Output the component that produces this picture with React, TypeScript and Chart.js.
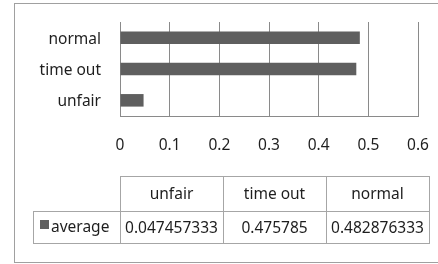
import React, { useEffect, useRef } from "react";
import { Chart, registerables } from "chart.js";

Chart.register(...registerables);

const categories = ["unfair", "time out", "normal"];
const seriesName = "average";
const averageValues = [0.047457333, 0.475785, 0.482876333];
const xTickValues = [0, 0.1, 0.2, 0.3, 0.4, 0.5, 0.6];

const FONT_FAMILY = "'Noto Sans', 'Open Sans', sans-serif";
const FONT_SIZE = 15.5;
const TEXT_COLOR = "#1e1e1e";
const BAR_COLOR = "#5f5f5f";
const GRID_COLOR = "#8a8a8a";
const TABLE_LINE = "#a6a6a6";

const tablePlugin = {
  id: "dataTable",
  beforeDraw(chart: any) {
    const ctx = chart.ctx;
    ctx.save();
    ctx.fillStyle = "#ffffff";
    ctx.fillRect(0, 0, chart.width, chart.height);
    ctx.strokeStyle = "#a0a0a0";
    ctx.lineWidth = 1;
    ctx.strokeRect(14.5, 3.5, 440, 259);
    ctx.restore();
  },
  afterDraw(chart: any) {
    const ctx = chart.ctx;
    const area = chart.chartArea;
    const left = area.left;
    const colW = 103;
    const right = left + colW * categories.length;
    const top = 176;
    const mid = 211;
    const bottom = 243;
    const legendLeft = 33;
    ctx.save();
    ctx.strokeStyle = TABLE_LINE;
    ctx.lineWidth = 1;
    ctx.beginPath();
    ctx.moveTo(left, top + 0.5);
    ctx.lineTo(right + 1, top + 0.5);
    ctx.moveTo(legendLeft, mid + 0.5);
    ctx.lineTo(right + 1, mid + 0.5);
    ctx.moveTo(legendLeft, bottom + 0.5);
    ctx.lineTo(right + 1, bottom + 0.5);
    ctx.moveTo(legendLeft + 0.5, mid);
    ctx.lineTo(legendLeft + 0.5, bottom + 1);
    for (let i = 0; i <= categories.length; i++) {
      const x = Math.round(left + colW * i) + 0.5;
      ctx.moveTo(x, top);
      ctx.lineTo(x, bottom + 1);
    }
    ctx.stroke();

    ctx.fillStyle = TEXT_COLOR;
    ctx.font = `${FONT_SIZE}px ${FONT_FAMILY}`;
    ctx.textBaseline = "middle";
    ctx.textAlign = "center";
    categories.forEach((c, i) => {
      const cx = left + colW * i + colW / 2;
      ctx.fillText(c, cx, (top + mid) / 2 + 1.5);
      ctx.fillText(String(averageValues[i]), cx, (mid + bottom) / 2 + 1.5);
    });
    ctx.fillStyle = BAR_COLOR;
    ctx.fillRect(40, 220, 9, 9);
    ctx.fillStyle = TEXT_COLOR;
    ctx.textAlign = "left";
    ctx.fillText(seriesName, 51, (mid + bottom) / 2 + 0.5);
    ctx.restore();
  },
};

export default function App() {
  const ref = useRef<HTMLCanvasElement | null>(null);
  useEffect(() => {
    if (!ref.current) return;
    const chart = new Chart(ref.current, {
      type: "bar",
      data: {
        labels: categories,
        datasets: [
          {
            label: seriesName,
            data: averageValues,
            backgroundColor: BAR_COLOR,
            borderWidth: 0,
            barPercentage: 0.4,
            categoryPercentage: 1,
          },
        ],
      },
      options: {
        indexAxis: "y",
        animation: false,
        responsive: false,
        devicePixelRatio: 1,
        layout: { padding: { left: 0, top: 22, right: 20, bottom: 108 } },
        plugins: { legend: { display: false }, tooltip: { enabled: false } },
        scales: {
          x: {
            min: 0,
            max: 0.6,
            afterBuildTicks: (scale: any) => {
              scale.ticks = xTickValues.map((v) => ({ value: v }));
            },
            afterFit: (scale: any) => {
              scale.height = 40;
              scale.paddingLeft = 0;
              scale.paddingRight = 0;
            },
            ticks: {
              padding: 20,
              color: TEXT_COLOR,
              font: { family: FONT_FAMILY, size: FONT_SIZE },
              callback: (v: any) => String(Math.round(Number(v) * 10) / 10),
            },
            grid: { color: GRID_COLOR, lineWidth: 1, drawTicks: false },
            border: { display: true, color: GRID_COLOR, width: 1 },
          },
          y: {
            reverse: true,
            afterFit: (scale: any) => {
              scale.width = 120;
              scale.paddingTop = 0;
              scale.paddingBottom = 0;
            },
            ticks: {
              padding: 19,
              labelOffset: 1.5,
              color: TEXT_COLOR,
              font: { family: FONT_FAMILY, size: FONT_SIZE },
            },
            grid: { display: false, drawTicks: false },
            border: { display: true, color: GRID_COLOR, width: 1 },
          },
        },
      },
      plugins: [tablePlugin],
    } as any);
    return () => chart.destroy();
  }, []);
  return (
    <div style={{ position: "fixed", left: 0, top: 0, width: 438, height: 264, background: "#fff" }}>
      <canvas ref={ref} width={438} height={264} style={{ display: "block", width: 438, height: 264 }} />
    </div>
  );
}
